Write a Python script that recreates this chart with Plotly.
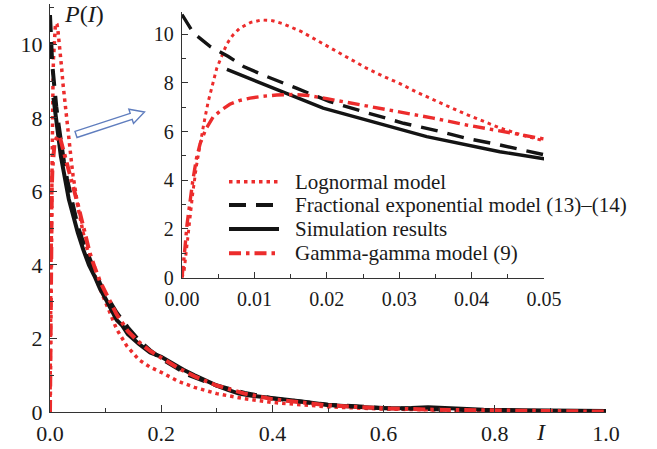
import plotly.graph_objects as go
import numpy as np

# ---------------- data ----------------
I_logn = [0, 0.0003, 0.0006, 0.001, 0.0015, 0.002, 0.0025, 0.003, 0.0036, 0.0043, 0.0048,
          0.0055, 0.0062, 0.007, 0.008, 0.0095, 0.011, 0.0125, 0.014, 0.0165, 0.0186, 0.021,
          0.0232, 0.0255, 0.0278, 0.0301, 0.0324, 0.0347, 0.037, 0.0393, 0.0416, 0.0439, 0.047,
          0.05, 0.06, 0.075, 0.09, 0.1, 0.11, 0.12, 0.138, 0.16, 0.18, 0.2, 0.23, 0.26, 0.3,
          0.35, 0.4, 0.45, 0.5, 0.6, 0.7, 0.8, 0.9, 1.0]
P_logn = [0, 0.3, 1.1, 2.3, 3.5, 4.6, 5.5, 6.3, 7.2, 8.0, 8.6,
          9.1, 9.6, 9.95, 10.25, 10.48, 10.58, 10.55, 10.42, 10.1, 9.75, 9.35,
          8.95, 8.6, 8.27, 7.97, 7.62, 7.3, 7.0, 6.7, 6.42, 6.15, 5.85,
          5.6, 4.85, 3.95, 3.35, 3.0, 2.6, 2.25, 1.8, 1.42, 1.22, 1.08, 0.84, 0.67, 0.5,
          0.36, 0.26, 0.19, 0.14, 0.08, 0.05, 0.03, 0.02, 0.01]

I_fe = [0, 0.0016, 0.0039, 0.0064, 0.0085, 0.0112, 0.0158, 0.0204, 0.025, 0.0306, 0.0347,
        0.0393, 0.0439, 0.05, 0.06, 0.07, 0.08, 0.09, 0.1, 0.12, 0.14, 0.16, 0.18, 0.2, 0.25,
        0.3, 0.35, 0.4, 0.5, 0.6, 0.7, 0.8, 0.9, 1.0]
P_fe = [10.8, 10.04, 9.49, 9.08, 8.67, 8.32, 7.78, 7.23, 6.82, 6.34, 6.07,
        5.72, 5.45, 5.05, 4.6, 4.2, 3.85, 3.5, 3.2, 2.7, 2.3, 1.95, 1.68, 1.45, 1.0,
        0.72, 0.52, 0.37, 0.2, 0.11, 0.06, 0.035, 0.02, 0.01]

I_sim = [0.0062, 0.0195, 0.0338, 0.0439, 0.05, 0.06, 0.07, 0.08, 0.09, 0.1, 0.11, 0.12, 0.13,
         0.14, 0.16, 0.18, 0.2, 0.22, 0.24, 0.26, 0.28, 0.3, 0.32, 0.34, 0.36, 0.38, 0.4, 0.43,
         0.46, 0.5, 0.55, 0.6, 0.65, 0.68, 0.72, 0.78, 0.85, 0.9, 0.95, 1.0]
P_sim = [8.55, 6.96, 5.79, 5.17, 4.88, 4.41, 4.0, 3.7, 3.35, 3.08, 2.8, 2.5, 2.35,
         2.12, 1.85, 1.62, 1.5, 1.32, 1.15, 1.0, 0.85, 0.72, 0.6, 0.5, 0.45, 0.42, 0.38, 0.33,
         0.27, 0.19, 0.14, 0.1, 0.11, 0.13, 0.1, 0.06, 0.05, 0.05, 0.04, 0.03]

I_gg = [0, 0.0002, 0.0004, 0.0007, 0.0011, 0.0015, 0.002, 0.0025, 0.0033, 0.0043, 0.0055,
        0.0066, 0.0079, 0.0094, 0.0112, 0.0131, 0.0155, 0.0175, 0.02, 0.0232, 0.0278, 0.0301,
        0.0347, 0.0393, 0.0439, 0.05, 0.06, 0.072, 0.08, 0.09, 0.1, 0.11, 0.12, 0.14, 0.16,
        0.18, 0.2, 0.23, 0.26, 0.3, 0.35, 0.4, 0.5, 0.6, 0.7, 0.8, 0.9, 1.0]
P_gg = [0, 0.5, 1.2, 2.2, 3.2, 4.0, 4.9, 5.5, 6.1, 6.6, 6.9,
        7.12, 7.27, 7.37, 7.45, 7.5, 7.52, 7.48, 7.35, 7.18, 6.92, 6.82,
        6.55, 6.27, 6.0, 5.65, 5.05, 4.3, 3.95, 3.55, 3.25, 2.95, 2.65, 2.2, 1.9,
        1.66, 1.48, 1.2, 0.97, 0.72, 0.5, 0.35, 0.18, 0.1, 0.06, 0.035, 0.02, 0.01]

names = ["Lognormal model", "Fractional exponential model (13)\u2013(14)",
         "Simulation results", "Gamma-gamma model (9)"]

main_x_ticks = [0.0, 0.2, 0.4, 0.6, 0.8, 1.0]
main_y_ticks = [0, 2, 4, 6, 8, 10]
inset_x_ticks = [0.00, 0.01, 0.02, 0.03, 0.04, 0.05]
inset_y_ticks = [0, 2, 4, 6, 8, 10]

# ---------------- styles ----------------
RED = "rgb(236,44,44)"
BLK = "rgb(20,20,20)"
SERIF = "Liberation Serif"
TXT = "#1a1a1a"
W, H = 657, 449
L, R, T, B = 50, 51, 4, 37

styles = [
    (RED, "3.5px,4px", 3.5),
    (BLK, "17px,10px", 4),
    (BLK, "solid", 4),
    (RED, "12px,5px,3.5px,5px", 4),
]
data = [(I_logn, P_logn), (I_fe, P_fe), (I_sim, P_sim), (I_gg, P_gg)]

fig = go.Figure()
for (xs, ys), (col, dash, w), nm in zip(data, styles, names):
    fig.add_trace(go.Scatter(x=xs, y=ys, mode="lines", name=nm,
                             line=dict(color=col, dash=dash, width=w),
                             xaxis="x", yaxis="y", showlegend=False))
for (xs, ys), (col, dash, w), nm in zip(data, styles, names):
    fig.add_trace(go.Scatter(x=xs, y=ys, mode="lines", name=nm,
                             line=dict(color=col, dash=dash, width=w * 0.85),
                             xaxis="x2", yaxis="y2", showlegend=False))

pw, ph = W - L - R, H - T - B
def px2paper(px, py):
    return (px - L) / pw, (H - B - py) / ph

# inset domain (pixel positions of the inset axes)
ix0, ix1 = px2paper(182, 0)[0], px2paper(544, 0)[0]
iy0, iy1 = px2paper(0, 277.7)[1], px2paper(0, 11.7)[1]

axis_common = dict(showgrid=False, zeroline=False, showline=True, linecolor="#333",
                   linewidth=1.3, ticks="inside", tickcolor="#333", tickwidth=1.3,
                   mirror=False)

fig.update_layout(
    width=W, height=H, margin=dict(l=L, r=R, t=T, b=B),
    paper_bgcolor="white", plot_bgcolor="rgba(0,0,0,0)",
    font=dict(family=SERIF, color=TXT),
    showlegend=False,
    xaxis=dict(range=[0, 1.0], tickvals=main_x_ticks,
               ticktext=[f"{v:.1f}" for v in main_x_ticks], ticklen=7,
               tickfont=dict(size=22, family=SERIF, color=TXT),
               minor=dict(ticks="inside", dtick=0.1, ticklen=4, tickcolor="#333", tickwidth=1.3),
               ticklabelstandoff=1, **axis_common),
    yaxis=dict(range=[0, 11.1], tickvals=main_y_ticks,
               ticktext=[str(v) for v in main_y_ticks], ticklen=7,
               tickfont=dict(size=22, family=SERIF, color=TXT),
               minor=dict(ticks="inside", dtick=1, ticklen=4, tickcolor="#333", tickwidth=1.3),
               ticklabelstandoff=2, **axis_common),
    xaxis2=dict(domain=[ix0, ix1], anchor="y2", range=[0, 0.05], tickvals=inset_x_ticks,
                ticktext=[f"{v:.2f}" for v in inset_x_ticks], ticklen=6,
                tickfont=dict(size=20, family=SERIF, color=TXT),
                minor=dict(ticks="inside", dtick=0.005, ticklen=4, tickcolor="#333", tickwidth=1.3),
                ticklabelstandoff=3, **axis_common),
    yaxis2=dict(domain=[iy0, iy1], anchor="x2", range=[0, 10.92], tickvals=inset_y_ticks,
                ticktext=[str(v) for v in inset_y_ticks], ticklen=6,
                tickfont=dict(size=20, family=SERIF, color=TXT),
                minor=dict(ticks="inside", dtick=1, ticklen=4, tickcolor="#333", tickwidth=1.3),
                ticklabelstandoff=3, **axis_common),
)

# ---------------- legend (drawn by hand to match sample length / spacing) ----------------
leg_rows = [181.7, 205.0, 229.0, 253.3]
for (col, dash, w), nm, ry in zip(styles, names, leg_rows):
    x0p, yp = px2paper(229, ry)
    x1p, _ = px2paper(279, ry)
    fig.add_shape(type="line", xref="paper", yref="paper", x0=x0p, x1=x1p, y0=yp, y1=yp,
                  line=dict(color=col, dash=dash, width=w))
    tx, _ = px2paper(293, ry)
    fig.add_annotation(text=nm, xref="paper", yref="paper", x=tx, y=yp,
                       xanchor="left", yanchor="middle", showarrow=False,
                       font=dict(size=21, family=SERIF, color=TXT))

# axis titles
px_, py_ = px2paper(84, 14)
fig.add_annotation(text="<i>P</i>(<i>I</i>)", xref="paper", yref="paper",
                   x=px_, y=py_, xanchor="center", yanchor="middle", showarrow=False,
                   font=dict(size=24, family=SERIF, color=TXT))
px_, py_ = px2paper(541, 432)
fig.add_annotation(text="<i>I</i>", xref="paper", yref="paper",
                   x=px_, y=py_, xanchor="center", yanchor="middle", showarrow=False,
                   font=dict(size=24, family=SERIF, color=TXT))

# hollow arrow pointing to the inset
tail = np.array([76.0, 134.5]); tip = np.array([144.5, 112.0])
u = (tip - tail) / np.linalg.norm(tip - tail)
n = np.array([-u[1], u[0]])
hw, hh, hl = 3.2, 7.5, 14.0
base = tip - u * hl
pts = [tail + n * hw, base + n * hw, base + n * hh, tip, base - n * hh, base - n * hw, tail - n * hw]
path = "M " + " L ".join(f"{px2paper(*p)[0]:.5f},{px2paper(*p)[1]:.5f}" for p in pts) + " Z"
fig.add_shape(type="path", path=path, xref="paper", yref="paper",
              line=dict(color="rgb(95,125,190)", width=1.4), fillcolor="white")

fig.write_html("out.html")
